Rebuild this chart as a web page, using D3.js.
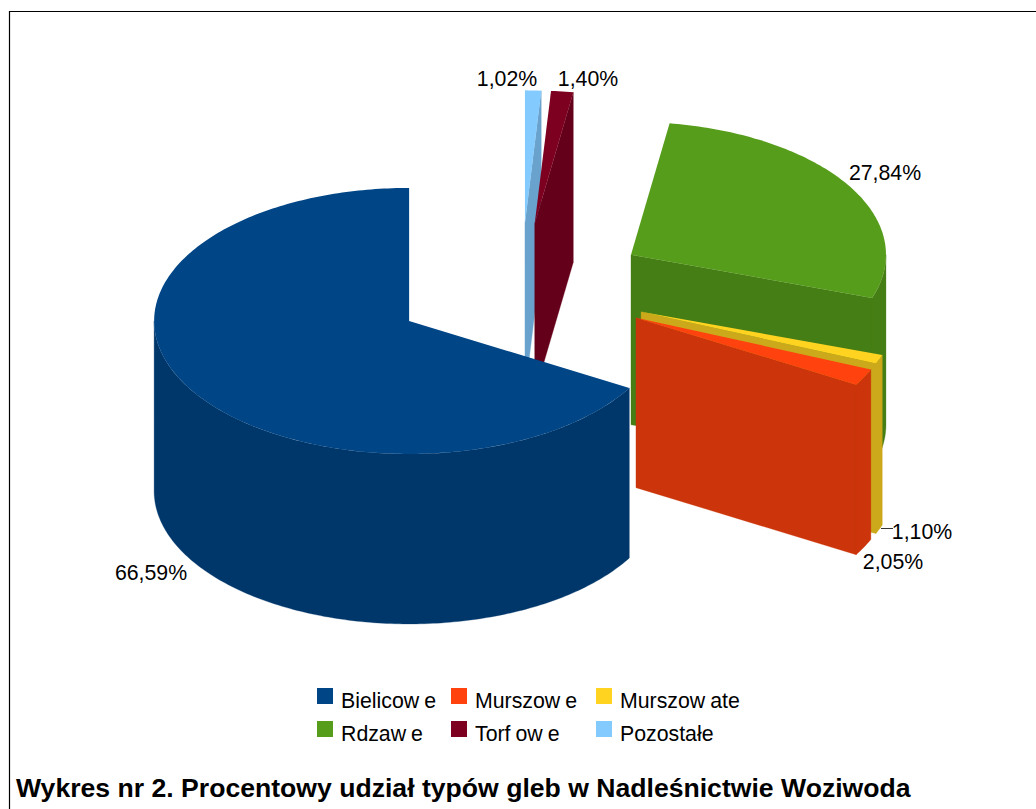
<!DOCTYPE html>
<html lang="pl">
<head>
<meta charset="UTF-8">
<title>Wykres nr 2</title>
<style>
html,body{margin:0; width:100%; height:100%; overflow:hidden; background:#fff;}
svg{display:block; font-family:"Liberation Sans", Arial, sans-serif;}
</style>
</head>
<body>
<svg width="1036" height="809"></svg>
<script src="https://d3js.org/d3.v7.min.js"></script>
<script>
const categories = ["Bielicowe","Murszowe","Murszowate","Rdzawe","Torfowe","Pozostałe"];
const shares = [66.59,2.05,1.10,27.84,1.40,1.02];
const palette = ["#004586","#ff420e","#ffd320","#579d1c","#7e0021","#83caff"];
const shareLabels = ["66,59%","2,05%","1,10%","27,84%","1,40%","1,02%"];
const title = "Wykres nr 2. Procentowy udział typów gleb w Nadleśnictwie Woziwoda";

// painter's order, back slices first
const drawOrder = [5,4,3,0,2,1];
// label centre x / baseline y, same order as categories
const labelPos = [[151,580],[893,569],[922,539],[885,180],[588,86],[507,86]];

const svg = d3.select("svg");
const color = d3.scaleOrdinal(categories,palette);
const sideColor = c=>{const k=d3.rgb(c);return d3.rgb(k.r*.8,k.g*.8,k.b*.8).formatHex();};

// ellipse of the tilted pie
const cx = 520.8, cy = 288.5, rx = 255, ry = 133, depth = 170, explodeX = .505, explodeY = .49;
const ex = d3.scaleLinear().domain([-1,1]).range([-rx,rx]);
const ey = d3.scaleLinear().domain([-1,1]).range([-ry,ry]);

const slices = d3.pie().sort(null).startAngle(0).endAngle(-2*Math.PI)(shares);
const line = d3.line();

// frame, open on the right like the original
svg.append("path").attr("d","M9.5,809V11.5H1036").attr("fill","none").attr("stroke","#000").attr("stroke-width",1.2);

const gPie = svg.append("g");
drawOrder.forEach(i=>{
  const s = slices[i];
  const mid = (s.startAngle+s.endAngle)/2;
  const ox = cx+explodeX*ex(Math.sin(mid)), oy = cy+explodeY*ey(-Math.cos(mid));
  const rim = a=>[ox+ex(Math.sin(a)),oy+ey(-Math.cos(a))];
  const down = p=>[p[0],p[1]+depth];
  const arcPts = (a0,a1)=>{
    const n = Math.max(2,Math.ceil(Math.abs(a1-a0)*60));
    return d3.range(n+1).map(k=>rim(a0+(a1-a0)*k/n));
  };
  const g = gPie.append("g");
  const side = sideColor(color(categories[i]));
  let wallPath = "";

  // radial walls facing the viewer
  [s.startAngle,s.endAngle].forEach((a,k)=>{
    if((k?-1:1)*Math.sin(a)>1e-6){
      const o=[ox,oy], r=rim(a);
      wallPath += line([o,r,down(r),down(o)])+"Z";
    }
  });
  // outer wall, front half only
  const a0 = Math.min(s.startAngle,-Math.PI/2), a1 = Math.max(s.endAngle,-1.5*Math.PI);
  if(a0>a1){
    const top = arcPts(a0,a1);
    wallPath += line(top.concat(top.map(down).reverse()))+"Z";
  }
  g.append("path").attr("d",wallPath).attr("fill",side).attr("stroke",side).attr("stroke-width",.3);
  // top face
  const topFace = [[ox,oy]].concat(arcPts(s.startAngle,s.endAngle));
  g.append("path").attr("d",line(topFace)+"Z").attr("fill",color(categories[i]));
});

// leader for the 1,10% label
svg.append("line").attr("x1",881).attr("x2",893).attr("y1",528.5).attr("y2",528.5).attr("stroke","#333");

svg.append("g").selectAll("text").data(shareLabels).join("text")
  .attr("x",(d,i)=>labelPos[i][0]).attr("y",(d,i)=>labelPos[i][1])
  .attr("text-anchor","middle").attr("font-size",21.3).attr("fill","#000").text(d=>d);

// legend, 3 columns
const legendX = d3.scaleOrdinal([0,1,2],[317,451,596]);
const legendY = d3.scaleOrdinal([0,1],[688,721]);
const legend = svg.append("g").selectAll("g").data(categories).join("g")
  .attr("transform",(d,i)=>`translate(${legendX(i%3)},${legendY(Math.floor(i/3))})`);
legend.append("rect").attr("width",16).attr("height",16).attr("fill",d=>color(d));
legend.append("text").attr("x",24).attr("y",19.5).attr("font-size",21.3).attr("fill","#000")
  .each(function(d){
    // original renderer leaves a gap after w and f
    d3.select(this).selectAll("tspan").data(d.split(/(?<=[wf])/)).join("tspan")
      .attr("dx",(p,k)=>k?5:0).text(p=>p);
  });

svg.append("text").attr("x",16).attr("y",797).attr("font-size",26.6).attr("font-weight","bold").attr("fill","#000").text(title);
</script>
</body>
</html>
